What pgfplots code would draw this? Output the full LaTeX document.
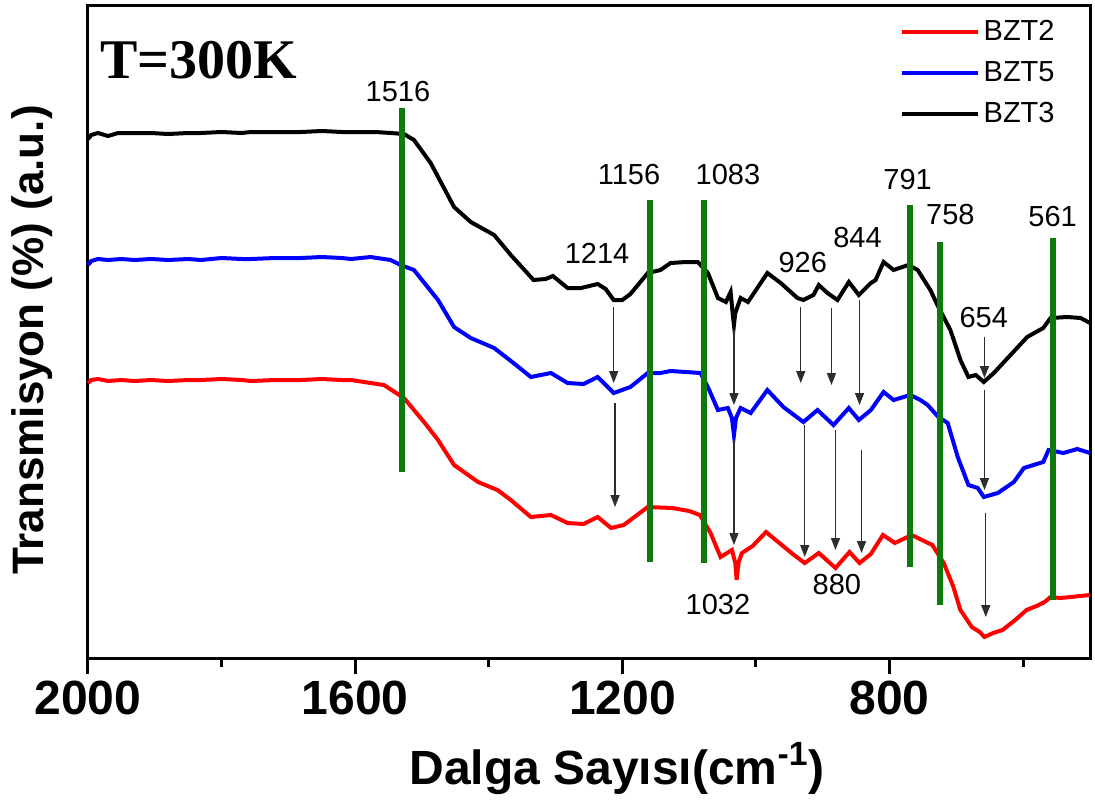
\documentclass[border=0pt]{standalone}
\usepackage{fontspec}
\setmainfont{Liberation Sans}
\newfontfamily\timesfont{Liberation Serif}
\usepackage{pgfplots}
\pgfplotsset{compat=1.18}
\usetikzlibrary{arrows.meta}
\definecolor{pkgreen}{RGB}{12,122,12}
\definecolor{arrowgray}{RGB}{45,45,45}

\begin{document}
\begin{tikzpicture}
\begin{axis}[
name=ax,
scale only axis,
width=501pt, height=326.5pt,
xmin=500, xmax=2000, ymin=0, ymax=653,
x dir=reverse,
clip=false,
axis line style={line width=1.5pt},
xtick={800,1200,1600,2000},
xticklabels={800,1200,1600,2000},
minor xtick={600,1000,1400,1800},
ytick=\empty,
xtick pos=left,
tick align=outside,
major tick length=8pt,
minor tick length=4.5pt,
tick style={black,line width=1.5pt},
xticklabel style={font=\bfseries\fontsize{24}{24}\selectfont},
legend style={draw=none, fill=none, at={(rel axis cs:0.975,0.99)}, anchor=north east,
  font=\fontsize{14.5}{14.5}\selectfont, row sep=5pt},
legend cell align=left,
legend image code/.code={\draw[#1] (0pt,0pt) -- (38pt,0pt);},
]
% BZT2
\addplot[red, line width=2pt] coordinates {
(2000,275) (1995,278) (1985,279) (1970,277) (1950,278) (1930,277) (1906,278) (1880,277)
(1850,278) (1831,278) (1800,279) (1770,278) (1756,277) (1720,278) (1681,278) (1650,279)
(1620,278) (1606,278) (1577,275) (1557,273) (1527,260) (1497,236) (1476,218) (1452,193)
(1416,176) (1387,168) (1367,158) (1337,141) (1307,143) (1282,135) (1258,134) (1237,141)
(1217,130) (1198,133) (1162,151) (1125,150) (1100,147) (1084,143) (1068,125) (1053,101)
(1036,108) (1031,95) (1029,78) (1026,96) (1021,105) (1005,112) (985,126) (965,115)
(945,104) (927,95) (906,105) (881,90) (860,106) (845,95) (828,104) (810,123)
(792,115) (767,123) (736,113) (719,95) (705,72) (694,48) (677,31) (665,26) (658,21)
(645,25) (631,28) (612,38) (595,48) (580,52) (568,56) (559,61) (545,60) (528,61)
(515,62) (500,63)};
\addlegendentry{BZT2}
% BZT5
\addplot[blue, line width=2pt] coordinates {
(2000,393) (1995,397) (1985,399) (1970,398) (1950,399) (1930,398) (1906,399) (1880,398)
(1850,399) (1831,398) (1800,400) (1770,399) (1756,399) (1720,400) (1681,400) (1650,401)
(1620,400) (1606,399) (1577,401) (1547,398) (1532,393) (1512,388) (1476,358) (1452,331)
(1427,320) (1392,310) (1363,295) (1337,281) (1307,285) (1282,275) (1258,274) (1237,281)
(1213,265) (1188,271) (1162,285) (1143,285) (1128,287) (1105,286) (1083,285) (1070,268)
(1057,248) (1042,250) (1036,240) (1033,223) (1030,240) (1023,250) (1008,245) (983,268)
(959,251) (929,236) (908,248) (884,233) (861,250) (846,238) (828,248) (809,266)
(794,258) (769,263) (754,258) (743,253) (727,241) (713,235) (698,201) (682,173)
(668,170) (659,161) (638,165) (614,176) (599,190) (570,196) (562,208) (540,205)
(519,209) (500,205)};
\addlegendentry{BZT5}
% BZT3
\addplot[black, line width=2pt] coordinates {
(2000,519) (1995,523) (1985,525) (1970,522) (1955,525) (1930,525) (1906,525) (1880,524)
(1850,525) (1831,525) (1800,526) (1770,525) (1756,526) (1720,526) (1681,526) (1650,527)
(1620,526) (1606,526) (1570,526) (1547,525) (1527,524) (1512,518) (1487,495) (1452,451)
(1427,436) (1392,423) (1367,403) (1333,378) (1315,379) (1304,382) (1282,370) (1262,370)
(1237,374) (1225,369) (1213,358) (1200,358) (1188,364) (1162,385) (1143,388) (1128,395)
(1105,396) (1087,396) (1072,385) (1057,360) (1045,356) (1038,366) (1035,345) (1033,333)
(1031,345) (1023,360) (1012,356) (983,385) (963,375) (938,360) (929,358) (914,363)
(906,373) (893,365) (878,358) (861,376) (846,363) (828,375) (821,378) (809,396)
(794,388) (772,393) (758,388) (739,368) (727,351) (709,328) (694,298) (682,281)
(671,283) (659,276) (644,285) (619,303) (594,321) (570,330) (559,340) (534,341)
(514,340) (500,335)};
\addlegendentry{BZT3}
% green marker lines
\addplot[pkgreen, line width=3pt, forget plot] coordinates {(1530,186) (1530,550)};
\addplot[pkgreen, line width=3pt, forget plot] coordinates {(1159,96) (1159,458)};
\addplot[pkgreen, line width=3pt, forget plot] coordinates {(1078,95) (1078,458)};
\addplot[pkgreen, line width=3pt, forget plot] coordinates {(769,91) (769,453)};
\addplot[pkgreen, line width=3pt, forget plot] coordinates {(724,53) (724,416)};
\addplot[pkgreen, line width=3pt, forget plot] coordinates {(555,58) (555,420)};
% arrows
\pgfplotsset{every axis plot/.append style={}}
\addplot[arrowgray, line width=0.7pt, -{Triangle[length=6pt,width=4.5pt]}, forget plot] coordinates {(1213,351) (1213,275)};
\addplot[arrowgray, line width=0.7pt, -{Triangle[length=6pt,width=4.5pt]}, forget plot] coordinates {(1211,255) (1211,151)};
\addplot[arrowgray, line width=0.7pt, -{Triangle[length=6pt,width=4.5pt]}, forget plot] coordinates {(1033,328) (1033,253)};
\addplot[arrowgray, line width=0.7pt, -{Triangle[length=6pt,width=4.5pt]}, forget plot] coordinates {(1033,218) (1033,113)};
\addplot[arrowgray, line width=0.7pt, -{Triangle[length=6pt,width=4.5pt]}, forget plot] coordinates {(933,351) (933,275)};
\addplot[arrowgray, line width=0.7pt, -{Triangle[length=6pt,width=4.5pt]}, forget plot] coordinates {(927,233) (927,101)};
\addplot[arrowgray, line width=0.7pt, -{Triangle[length=6pt,width=4.5pt]}, forget plot] coordinates {(887,350) (887,273)};
\addplot[arrowgray, line width=0.7pt, -{Triangle[length=6pt,width=4.5pt]}, forget plot] coordinates {(881,228) (881,108)};
\addplot[arrowgray, line width=0.7pt, -{Triangle[length=6pt,width=4.5pt]}, forget plot] coordinates {(845,358) (845,253)};
\addplot[arrowgray, line width=0.7pt, -{Triangle[length=6pt,width=4.5pt]}, forget plot] coordinates {(842,208) (842,105)};
\addplot[arrowgray, line width=0.7pt, -{Triangle[length=6pt,width=4.5pt]}, forget plot] coordinates {(658,321) (658,280)};
\addplot[arrowgray, line width=0.7pt, -{Triangle[length=6pt,width=4.5pt]}, forget plot] coordinates {(658,268) (658,168)};
\addplot[arrowgray, line width=0.7pt, -{Triangle[length=6pt,width=4.5pt]}, forget plot] coordinates {(656,145) (656,41)};
% peak labels
\begin{scope}[every node/.style={font=\fontsize{14.5}{14.5}\selectfont, inner sep=0pt, anchor=center}]
\node at (axis cs:1536,566) {1516};
\node at (axis cs:1190,483) {1156};
\node at (axis cs:1042,483) {1083};
\node at (axis cs:1238,405) {1214};
\node at (axis cs:930,395) {926};
\node at (axis cs:848,420) {844};
\node at (axis cs:773,478) {791};
\node at (axis cs:709,443) {758};
\node at (axis cs:556,441) {561};
\node at (axis cs:659,340) {654};
\node at (axis cs:1057,53) {1032};
\node at (axis cs:879,73) {880};
\end{scope}
\node[anchor=base west, inner sep=0pt, font=\timesfont\bfseries\fontsize{28}{28}\selectfont] at (rel axis cs:0.012,0.888) {T=300K};
\node[rotate=90, anchor=center, inner sep=0pt, font=\bfseries\fontsize{22}{22}\selectfont] at (rel axis cs:-0.056,0.487) {Transmisyon (\%) (a.u.)};
\node[anchor=base, inner sep=0pt, font=\bfseries\fontsize{24}{24}\selectfont] at (rel axis cs:0.528,-0.193) {Dalga Sayısı(cm\textsuperscript{-1})};
\end{axis}
\pgfresetboundingbox
\path ([xshift=-44pt,yshift=-73.5pt]ax.south west) rectangle ([xshift=2.5pt,yshift=2.5pt]ax.north east);
\end{tikzpicture}
\end{document}
